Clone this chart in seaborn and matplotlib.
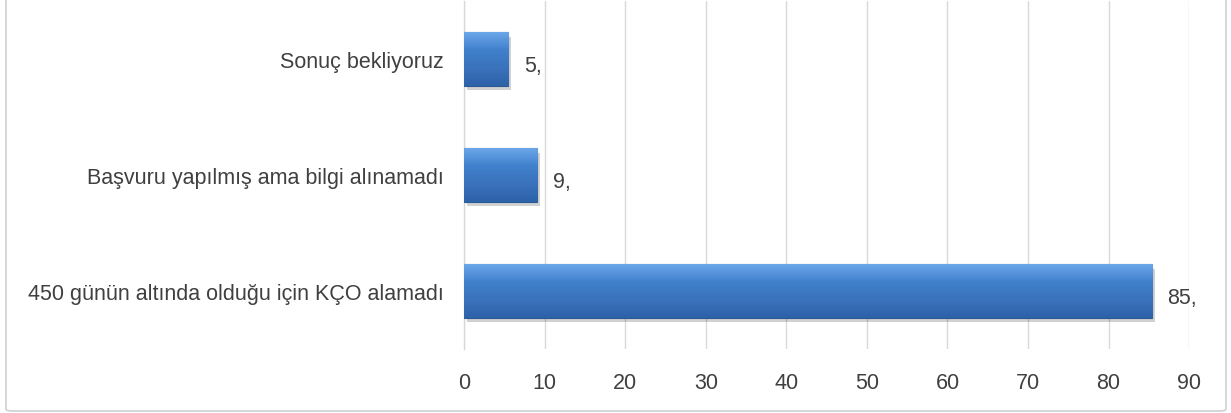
import numpy as np
import pandas as pd
import matplotlib.pyplot as plt
import seaborn as sns
from matplotlib.patches import FancyBboxPatch

# data
categories = ["Sonuç bekliyoruz",
              "Başvuru yapılmış ama bilgi alınamadı",
              "450 günün altında olduğu için KÇO alamadı"]
values = [5.5, 9.1, 85.4]
value_labels = ["5,", "9,", "85,"]
x_ticks = [0, 10, 20, 30, 40, 50, 60, 70, 80, 90]

df = pd.DataFrame({"kategori": categories, "deger": values})

sns.set_theme(style="white")
plt.rcParams['font.family'] = ['Liberation Sans', 'DejaVu Sans']

text_color = "#404040"
grid_color = "#d9d9d9"
fs = 15.5

fig = plt.figure(figsize=(12.31, 4.14), dpi=100)
ax = fig.add_axes([0.377, 0.155, 0.589, 0.84])

sns.barplot(data=df, y="kategori", x="deger", orient="h", width=0.46,
            color="#3a76c4", edgecolor="#2a5a94", linewidth=0.8, ax=ax,
            zorder=3)

# gradient + shadow on each bar
grad = np.linspace(0, 1, 64).reshape(-1, 1)
cmap = sns.blend_palette(["#6aa6e8", "#4080cc", "#3a72bb", "#2d62a8"],
                         as_cmap=True)
for p in ax.patches:
    x0, y0 = p.get_x(), p.get_y()
    w, h = p.get_width(), p.get_height()
    shadow = plt.Rectangle((x0 + 0.35, y0 + 0.04), w, h, color="#000000",
                           alpha=0.18, zorder=2, linewidth=0)
    ax.add_patch(shadow)
    im = ax.imshow(grad, cmap=cmap, aspect="auto", zorder=3.5,
                   extent=(x0, x0 + w, y0 + h, y0), interpolation="bilinear")
    im.set_clip_path(p)

ax.set_xlim(0, 90)
ax.set_ylim(2.5, -0.5)
ax.set_xticks(x_ticks)

# value labels (sit a little below the bar centre, like the original)
for i, (v, lab) in enumerate(zip(values, value_labels)):
    ax.text(v + 1.9, i + 0.06, lab, va="center", ha="left", fontsize=fs,
            color=text_color)

ax.grid(axis="x", color=grid_color, linewidth=1, zorder=0)
ax.set_axisbelow(True)
for s in ["top", "right", "bottom"]:
    ax.spines[s].set_visible(False)
ax.spines["left"].set_color(grid_color)
ax.spines["left"].set_linewidth(1)
ax.set_xlabel("")
ax.set_ylabel("")
ax.tick_params(axis="both", length=0, labelsize=fs, labelcolor=text_color)
ax.tick_params(axis="y", pad=15)
ax.tick_params(axis="x", pad=17)

# outer chart border
border = FancyBboxPatch((6 / 1231, 2 / 414), 1220 / 1231, 420 / 414,
                        boxstyle="round,pad=0,rounding_size=0.005",
                        transform=fig.transFigure, fill=False,
                        edgecolor="#d0d0d0", linewidth=1.2)
fig.patches.append(border)

fig.savefig("out.png", dpi=100)
